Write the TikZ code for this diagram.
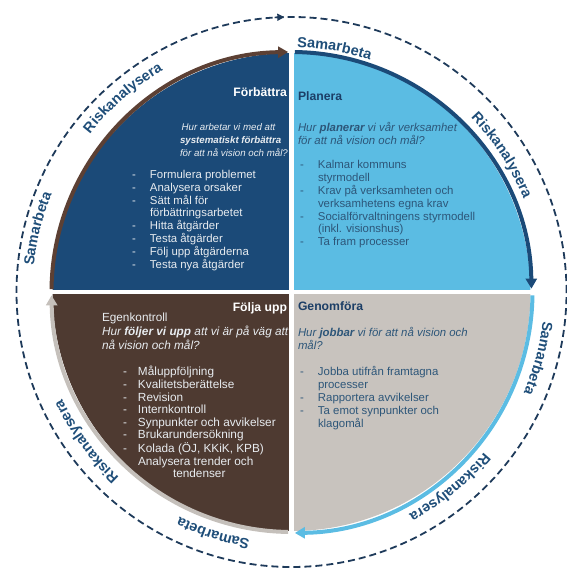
\documentclass[tikz,border=0pt]{standalone}
\usepackage{fontspec}
\setmainfont{Liberation Sans}
\usetikzlibrary{arrows.meta,decorations.text,calc}
\definecolor{fbblue}{HTML}{1B4A78}
\definecolor{plblue}{HTML}{5BBCE3}
\definecolor{gmgray}{HTML}{C8C3BE}
\definecolor{fubrown}{HTML}{4E3A31}
\definecolor{ringc}{HTML}{1F4E79}
\definecolor{dashc}{HTML}{1E3A5A}
\definecolor{navyhead}{HTML}{1C3E66}
\definecolor{bodyblue}{HTML}{2D5679}
\definecolor{lighttext}{HTML}{E8ECF0}
\definecolor{arcbrown}{HTML}{5C4034}
\definecolor{arcgray}{HTML}{C5C0BB}
\newcommand\ringfont{\fontsize{14.5}{16}\selectfont\bfseries\color{ringc}}
\newcommand\dsh[1]{\makebox[#1][l]{-}}
\begin{document}
\begin{tikzpicture}[x=1pt,y=1pt,
  txt/.style={inner sep=0pt, outer sep=0pt},
  headfont/.style={font=\fontsize{12.2}{14}\selectfont\bfseries},
  ringarc/.style={line width=4pt, -{Triangle[length=10pt,width=11pt]}},
  ringtext/.style={decorate, decoration={text along path, text align=center, text={|\ringfont|#1}}}
]
\useasboundingbox (0,0) rectangle (567,570);
\coordinate (C) at (291.5,278);
% outer dashed ring
\draw[dashc, line width=1.8pt, dash pattern=on 7pt off 4pt] (C) circle[radius=275];
\draw[dashc, line width=1.5pt, -{Triangle[length=7pt,width=7pt]}] ($(C)+(93.5:275)$) arc[start angle=93.5,end angle=91.5,radius=275];
% sectors
\fill[fbblue] (C) -- ($(C)+(180:239)$) arc[start angle=180,end angle=90,radius=239] -- cycle;
\fill[plblue] (C) -- ($(C)+(90:239)$) arc[start angle=90,end angle=0,radius=239] -- cycle;
\fill[gmgray] (C) -- ($(C)+(0:239)$) arc[start angle=0,end angle=-90,radius=239] -- cycle;
\fill[fubrown] (C) -- ($(C)+(-90:239)$) arc[start angle=-90,end angle=-180,radius=239] -- cycle;
\fill[white] ($(C)+(-250,-2.2)$) rectangle ($(C)+(250,2.2)$);
\fill[white] ($(C)+(-2.5,-250)$) rectangle ($(C)+(2.5,250)$);
% cycle arcs
\draw[ringarc, arcbrown] ($(C)+(179.3:240)$) arc[start angle=179.3,end angle=90.8,radius=240];
\draw[ringarc, fbblue] ($(C)+(89.2:240)$) arc[start angle=89.2,end angle=0.8,radius=240];
\draw[ringarc, plblue] ($(C)+(-0.8:241)$) arc[start angle=-0.8,end angle=-89.2,radius=241];
\draw[ringarc, arcgray] ($(C)+(-90.8:240)$) arc[start angle=-90.8,end angle=-179.2,radius=240];
% ring texts
\path[ringtext=Riskanalysera] ($(C)+(181:256)$) arc[start angle=181,end angle=81,radius=256];
\path[ringtext=Samarbeta] ($(C)+(130:245)$) arc[start angle=130,end angle=30,radius=245];
\path[ringtext=Riskanalysera] ($(C)+(83:250)$) arc[start angle=83,end angle=-17,radius=250];
\path[ringtext=Samarbeta] ($(C)+(35:253)$) arc[start angle=35,end angle=-65,radius=253];
\path[ringtext=Riskanalysera] ($(C)+(-1:251)$) arc[start angle=-1,end angle=-101,radius=251];
\path[ringtext=Samarbeta] ($(C)+(-58:251)$) arc[start angle=-58,end angle=-158,radius=251];
\path[ringtext=Riskanalysera] ($(C)+(-94:253)$) arc[start angle=-94,end angle=-194,radius=253];
\path[ringtext=Samarbeta] ($(C)+(216:259)$) arc[start angle=216,end angle=116,radius=259];
% Förbättra
\node[txt, headfont, text=white, anchor=base east] (fbh) at (287,473) {Förbättra};
\node[txt, text=lighttext, anchor=base west, font=\fontsize{9.7}{13}\selectfont\itshape] (fbq) at (180,439)
  {\begin{tabular}[t]{@{}l@{}}\,Hur arbetar vi med att\\ \textbf{systematiskt förbättra}\\ för att nå vision och mål?\end{tabular}};
\node[txt, text=lighttext, anchor=base west, font=\fontsize{11.4}{12.5}\selectfont] (fbl) at (132,391)
  {\begin{tabular}[t]{@{}l@{}}\dsh{18pt}Formulera problemet\\ \dsh{18pt}Analysera orsaker\\ \dsh{18pt}Sätt mål för\\ \hspace*{18pt}förbättringsarbetet\\ \dsh{18pt}Hitta åtgärder\\ \dsh{18pt}Testa åtgärder\\ \dsh{18pt}Följ upp åtgärderna\\ \dsh{18pt}Testa nya åtgärder\end{tabular}};
% Planera
\node[txt, headfont, text=navyhead, anchor=base west] (plh) at (298,469) {Planera};
\node[txt, text=bodyblue, anchor=base west, font=\fontsize{11.4}{12.5}\selectfont\itshape] (plq) at (298,438)
  {\begin{tabular}[t]{@{}l@{}}Hur \textbf{planerar} vi vår verksamhet\\ för att nå vision och mål?\end{tabular}};
\node[txt, text=bodyblue, anchor=base west, font=\fontsize{11.4}{12.7}\selectfont] (pll) at (300,401)
  {\begin{tabular}[t]{@{}l@{}}\dsh{18pt}Kalmar kommuns\\ \hspace*{18pt}styrmodell\\ \dsh{18pt}Krav på verksamheten och\\ \hspace*{18pt}verksamhetens egna krav\\ \dsh{18pt}Socialförvaltningens styrmodell\\ \hspace*{18pt}(inkl. visionshus)\\ \dsh{18pt}Ta fram processer\end{tabular}};
% Genomföra
\node[txt, headfont, text=navyhead, anchor=base west] (gmh) at (298,259) {Genomföra};
\node[txt, text=bodyblue, anchor=base west, font=\fontsize{11.4}{12}\selectfont\itshape] (gmq) at (298,233)
  {\begin{tabular}[t]{@{}l@{}}Hur \textbf{jobbar} vi för att nå vision och\\ mål?\end{tabular}};
\node[txt, text=bodyblue, anchor=base west, font=\fontsize{11.4}{12.7}\selectfont] (gml) at (300,194)
  {\begin{tabular}[t]{@{}l@{}}\dsh{18pt}Jobba utifrån framtagna\\ \hspace*{18pt}processer\\ \dsh{18pt}Rapportera avvikelser\\ \dsh{18pt}Ta emot synpunkter och\\ \hspace*{18pt}klagomål\end{tabular}};
% Följa upp
\node[txt, headfont, text=white, anchor=base east] (fuh) at (287,258) {Följa upp};
\node[txt, text=lighttext, anchor=base west, font=\fontsize{11.8}{14}\selectfont] (fuq) at (102,248)
  {\begin{tabular}[t]{@{}l@{}}Egenkontroll\\ \textit{Hur \textbf{följer vi upp} att vi är på väg att}\\ \textit{nå vision och mål?}\end{tabular}};
\node[txt, text=lighttext, anchor=base west, font=\fontsize{11.8}{12.6}\selectfont] (ful) at (123,194)
  {\begin{tabular}[t]{@{}l@{}}\dsh{15pt}Måluppföljning\\ \dsh{15pt}Kvalitetsberättelse\\ \dsh{15pt}Revision\\ \dsh{15pt}Internkontroll\\ \dsh{15pt}Synpunkter och avvikelser\\ \dsh{15pt}Brukarundersökning\\ \dsh{15pt}Kolada (ÖJ, KKiK, KPB)\\ \hspace*{15pt}Analysera trender och\\ \hspace*{50pt}tendenser\end{tabular}};
\end{tikzpicture}
\end{document}
